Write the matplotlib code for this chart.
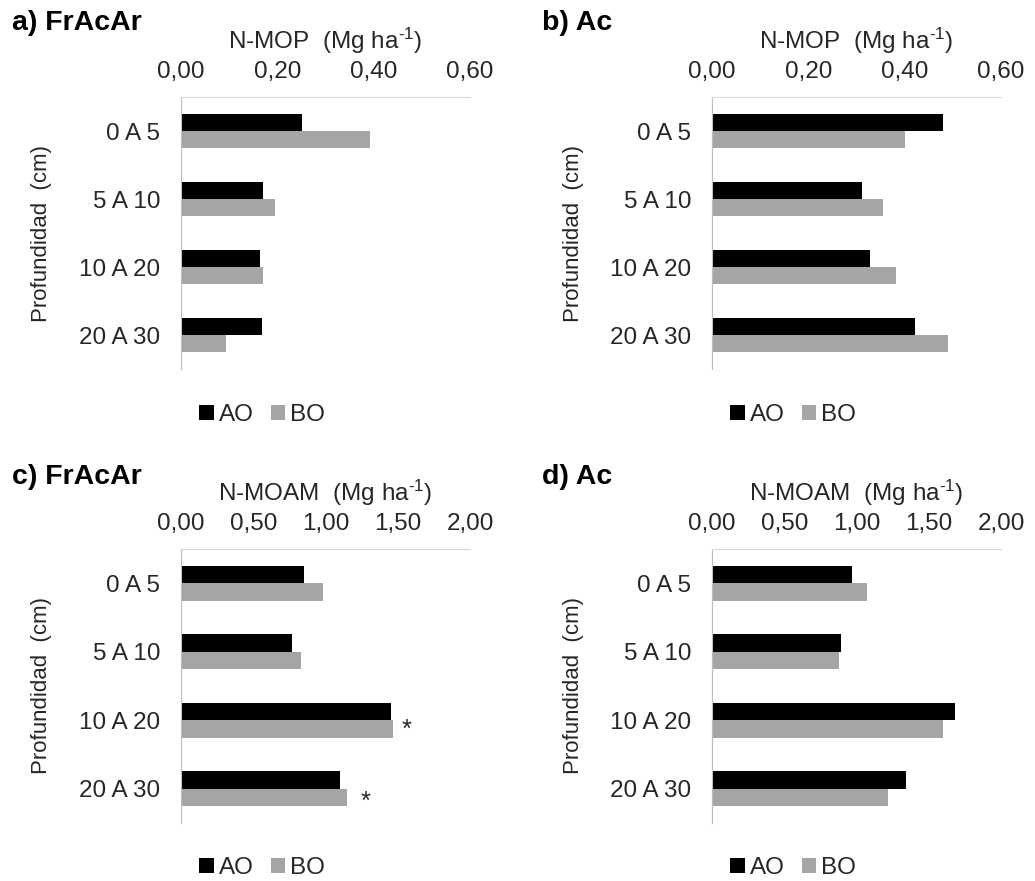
import numpy as np
import matplotlib
matplotlib.use("Agg")
import matplotlib.pyplot as plt
from matplotlib.patches import Patch
from matplotlib.ticker import FuncFormatter

plt.rcParams['font.family'] = ['Liberation Sans', 'DejaVu Sans']
plt.rcParams['mathtext.fontset'] = 'custom'
plt.rcParams['mathtext.rm'] = 'Liberation Sans'
plt.rcParams['mathtext.it'] = 'Liberation Sans:italic'

depths = ["0 A 5", "5 A 10", "10 A 20", "20 A 30"]
series = ["AO", "BO"]

# N-MOP (Mg ha-1)
mop_fracacar_ao = [0.251, 0.170, 0.164, 0.168]
mop_fracacar_bo = [0.392, 0.195, 0.170, 0.093]
mop_ac_ao = [0.480, 0.312, 0.329, 0.421]
mop_ac_bo = [0.401, 0.356, 0.382, 0.490]

# N-MOAM (Mg ha-1)
moam_fracacar_ao = [0.85, 0.77, 1.45, 1.10]
moam_fracacar_bo = [0.98, 0.83, 1.47, 1.15]
moam_ac_ao = [0.97, 0.89, 1.68, 1.34]
moam_ac_bo = [1.07, 0.88, 1.60, 1.22]

# significance marks on BO bars (panel c)
stars_c = [None, None, "*", "*"]

mop_ticks = [0.0, 0.2, 0.4, 0.6]
moam_ticks = [0.0, 0.5, 1.0, 1.5, 2.0]

AO_COLOR = "black"
BO_COLOR = "#a5a5a5"
TXT = "#262626"
FS = 17.5

W, H = 1035, 881
fig = plt.figure(figsize=(W / 100, H / 100), dpi=100)


def fx(px):
    return px / W


def fy(py):
    return 1 - py / H


comma = FuncFormatter(lambda v, p: f"{v:.2f}".replace(".", ","))


def panel(left, top, bottom, ao, bo, ticks, xlabel, title, title_x, title_y,
          leg_x, leg_y, stars=None, star_off=(0.09, 0.13)):
    ax = fig.add_axes([fx(left), fy(bottom), fx(289), (bottom - top) / H])
    y = np.arange(len(depths))
    h = 0.255
    ax.barh(y - h / 2, ao, height=h, color=AO_COLOR)
    ax.barh(y + h / 2, bo, height=h, color=BO_COLOR)
    ax.set_ylim(len(depths) - 0.5, -0.5)
    ax.set_xlim(ticks[0], ticks[-1])
    ax.set_xticks(ticks)
    ax.xaxis.set_major_formatter(comma)
    ax.xaxis.tick_top()
    ax.xaxis.set_label_position('top')
    ax.set_yticks(y)
    ax.set_yticklabels(depths)
    ax.tick_params(axis='x', length=0, pad=10, labelsize=FS, labelcolor=TXT)
    ax.tick_params(axis='y', length=0, pad=15, labelsize=FS, labelcolor=TXT)
    ax.set_xlabel(xlabel, fontsize=FS, color=TXT, labelpad=9)
    for s in ['bottom', 'right']:
        ax.spines[s].set_visible(False)
    ax.spines['top'].set_color('#d9d9d9')
    ax.spines['left'].set_color('#bfbfbf')
    if stars:
        for i, s in enumerate(stars):
            if s:
                off = star_off[0] if i == 2 else star_off[1]
                ax.text(bo[i] + off, y[i] + h / 2 + (0.02 if i == 2 else 0.07), s,
                        fontsize=FS + 1, color=TXT, ha='center', va='center')
    fig.text(fx(title_x), fy(title_y), title, fontsize=20.5, fontweight='bold',
             color='black', ha='left', va='center')
    fig.text(fx(left - 139), fy((top + bottom) / 2), "Profundidad  (cm)",
             rotation=90, fontsize=16, color=TXT, ha='center', va='center')
    handles = [Patch(facecolor=AO_COLOR, label=series[0]),
               Patch(facecolor=BO_COLOR, label=series[1])]
    fig.legend(handles=handles, loc='center', bbox_to_anchor=(fx(leg_x), fy(leg_y)),
               ncol=2, frameon=False, fontsize=FS, handlelength=0.6,
               handleheight=0.6, handletextpad=0.2, columnspacing=0.7,
               labelcolor=TXT)
    return ax


mop_label = r"N-MOP  (Mg ha$^{\text{-1}}$)"
moam_label = r"N-MOAM  (Mg ha$^{\text{-1}}$)"

panel(181, 97, 369, mop_fracacar_ao, mop_fracacar_bo, mop_ticks, mop_label,
      "a) FrAcAr", 12, 23, 262, 415)
panel(712, 97, 369, mop_ac_ao, mop_ac_bo, mop_ticks, mop_label,
      "b) Ac", 542, 23, 793, 415)
panel(181, 549, 823, moam_fracacar_ao, moam_fracacar_bo, moam_ticks, moam_label,
      "c) FrAcAr", 12, 477, 262, 868, stars=stars_c)
panel(712, 549, 823, moam_ac_ao, moam_ac_bo, moam_ticks, moam_label,
      "d) Ac", 542, 477, 793, 868)

plt.savefig("out.png", dpi=100)
